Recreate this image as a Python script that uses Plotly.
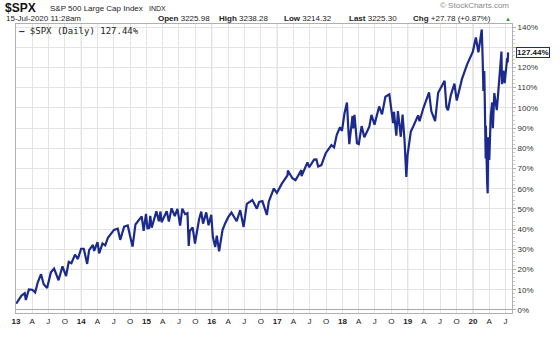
import plotly.graph_objects as go

# ---------------- data ----------------
dates = [
 "2013-01-02","2013-01-18","2013-02-01","2013-02-19","2013-02-25","2013-03-14","2013-04-02","2013-04-18",
 "2013-05-03","2013-05-21","2013-06-05","2013-06-24","2013-07-15","2013-08-02","2013-08-27","2013-09-18",
 "2013-10-08","2013-10-23","2013-11-07","2013-11-27","2013-12-13","2013-12-31",
 "2014-01-15","2014-02-03","2014-02-14","2014-03-07","2014-03-14","2014-04-02","2014-04-11","2014-04-30",
 "2014-05-15","2014-05-30","2014-06-20","2014-07-03","2014-07-24","2014-07-31","2014-08-07","2014-08-29",
 "2014-09-18","2014-10-01","2014-10-15","2014-10-31","2014-11-28","2014-12-05","2014-12-16","2014-12-29",
 "2015-01-06","2015-01-15","2015-01-22","2015-01-30","2015-02-25","2015-03-11","2015-03-20","2015-03-26",
 "2015-04-24","2015-05-06","2015-05-21","2015-06-08","2015-06-23","2015-07-08","2015-07-20","2015-08-05",
 "2015-08-18","2015-08-25","2015-08-31","2015-09-16","2015-09-29","2015-10-22","2015-11-03","2015-11-13",
 "2015-12-01","2015-12-14","2015-12-29",
 "2016-01-07","2016-01-20","2016-01-29","2016-02-11","2016-03-01","2016-03-15","2016-04-01","2016-04-20",
 "2016-05-19","2016-06-08","2016-06-27","2016-07-15","2016-08-15","2016-09-09","2016-09-22","2016-10-10",
 "2016-11-04","2016-11-15","2016-12-13","2016-12-30",
 "2017-01-26","2017-02-28","2017-03-01","2017-03-27","2017-04-13","2017-05-16","2017-05-17","2017-06-19",
 "2017-06-29","2017-07-26","2017-08-08","2017-08-18","2017-09-05","2017-09-29","2017-10-31","2017-11-15",
 "2017-11-30","2017-12-18","2017-12-29",
 "2018-01-12","2018-01-26","2018-02-02","2018-02-08","2018-02-26","2018-03-02","2018-03-09","2018-03-23",
 "2018-04-02","2018-04-18","2018-05-03","2018-05-31","2018-06-12","2018-06-29","2018-07-25","2018-08-10",
 "2018-08-29","2018-09-20","2018-10-11","2018-10-16","2018-10-29","2018-11-07","2018-11-23","2018-12-03",
 "2018-12-14","2018-12-24","2018-12-31",
 "2019-01-18","2019-01-31","2019-02-28","2019-03-08","2019-03-29","2019-04-30","2019-05-13","2019-06-03",
 "2019-06-20","2019-07-26","2019-08-05","2019-08-14","2019-08-30","2019-09-19","2019-10-02","2019-10-31",
 "2019-11-29","2019-12-31",
 "2020-01-17","2020-01-31","2020-02-19","2020-02-24","2020-02-28","2020-03-04","2020-03-09","2020-03-10",
 "2020-03-11","2020-03-12","2020-03-13","2020-03-16","2020-03-18","2020-03-20","2020-03-23","2020-03-26",
 "2020-04-01","2020-04-09","2020-04-17","2020-04-21","2020-04-29","2020-05-13","2020-05-19","2020-05-29",
 "2020-06-08","2020-06-11","2020-06-19","2020-06-26","2020-07-06","2020-07-10","2020-07-13","2020-07-14",
 "2020-07-15",
]
pct = [
 3.1, 5.1, 7.1, 8.3, 4.9, 10.2, 10.0, 8.7,
 13.7, 17.7, 12.7, 10.9, 18.6, 20.5, 14.7, 21.6,
 16.8, 23.8, 23.1, 27.4, 25.2, 30.3,
 30.3, 22.8, 29.6, 32.2, 29.2, 33.6, 28.0, 32.9,
 32.0, 35.7, 38.3, 39.6, 40.2, 36.4, 34.7, 41.2,
 41.8, 36.6, 31.3, 42.3, 45.8, 46.3, 39.1, 47.5,
 40.4, 40.5, 46.6, 40.7, 48.8, 43.9, 48.7, 43.4,
 48.8, 43.7, 50.3, 46.5, 50.0, 41.7, 50.1, 47.4,
 47.9, 31.7, 39.1, 40.8, 32.9, 44.9, 48.7, 42.7,
 48.3, 41.9, 47.1,
 36.2, 31.1, 36.8, 29.0, 39.5, 42.7, 45.8, 48.2,
 43.9, 49.4, 41.1, 52.5, 54.4, 50.1, 53.5, 53.9,
 47.0, 53.7, 60.1, 57.9,
 62.4, 66.7, 69.0, 65.2, 64.2, 69.2, 66.2, 73.0,
 70.6, 74.4, 74.5, 71.0, 71.7, 77.6, 81.6, 80.5,
 86.7, 90.4, 88.6,
 97.2, 102.6, 90.6, 82.0, 96.0, 89.9, 96.5, 82.5,
 82.1, 91.0, 85.5, 90.7, 96.5, 91.7, 100.7, 96.8,
 105.5, 106.7, 92.4, 98.0, 86.2, 98.4, 85.7, 96.7,
 83.9, 65.8, 76.8,
 88.3, 90.7, 96.3, 93.4, 99.8, 107.7, 98.3, 93.5,
 107.5, 113.4, 100.5, 98.8, 106.3, 112.0, 103.6, 114.2,
 121.5, 127.8,
 134.8, 127.5, 138.8, 124.0, 108.3, 118.2, 93.7, 103.2,
 93.3, 75.0, 91.2, 68.3, 70.5, 62.8, 57.7, 85.5,
 74.2, 96.0, 102.7, 89.9, 107.3, 98.9, 105.3, 114.7,
 127.9, 111.7, 118.4, 112.2, 124.2, 124.6, 122.5, 125.4,
 127.44,
]
last_label = "127.44%"

tick_dates = []
tick_text = []
for yr in range(2013, 2021):
    for m, lab in [(1, None), (4, "A"), (7, "J"), (10, "O")]:
        d = f"{yr}-{m:02d}-01"
        if d > "2020-07-31":
            continue
        tick_dates.append(d)
        tick_text.append(f"<b>{str(yr)[2:]}</b>" if lab is None else lab)
year_dates = [f"{yr}-01-01" for yr in range(2014, 2021)]

y_ticks = list(range(0, 150, 10))
# the 130% label sits behind the last-value box in the reference
y_text = ["" if v == 130 else f"{v}%" for v in y_ticks]

# ---------------- layout geometry (pixels) ----------------
W, H = 560, 338
L, R, T, B = 14, 512, 24, 316
def px(xp):
    return (xp - L) / (R - L)
def py(yp):
    return (B - yp) / (B - T)

LINE = "#1b2a8c"
GRID = "#e3e3e3"

fig = go.Figure()
fig.add_trace(go.Scatter(x=dates, y=pct, mode="lines",
                         line=dict(color=LINE, width=2.2), showlegend=False,
                         hoverinfo="skip"))

fig.update_layout(
    width=W, height=H,
    margin=dict(l=L, r=W - R, t=T, b=H - B),
    paper_bgcolor="white", plot_bgcolor="white",
    font=dict(family="Liberation Sans, Arial", size=8, color="#333"),
    xaxis=dict(range=["2013-01-01", "2020-08-06"], tickvals=tick_dates,
               ticktext=tick_text, showgrid=True, gridcolor=GRID, gridwidth=1,
               showline=True, linecolor="#b0b0b0", mirror=True, ticks="",
               tickfont=dict(size=8, color="#222"), zeroline=False),
    yaxis=dict(side="right", range=[-1.5, 141.5], tickvals=y_ticks,
               ticktext=y_text, showgrid=True,
               gridcolor=GRID, showline=True, linecolor="#b0b0b0",
               mirror=True, ticks="outside", ticklen=3, tickcolor="#b0b0b0",
               minor=dict(ticks="outside", ticklen=2, tickcolor="#c8c8c8", dtick=2),
               tickfont=dict(size=8, color="#333"), zeroline=True,
               zerolinecolor="#a8a8a8", zerolinewidth=1),
)

for d in year_dates:
    fig.add_shape(type="line", x0=d, x1=d, y0=0, y1=1, yref="paper",
                  line=dict(color="#d0d0d0", width=1), layer="below")

ann = []
def A(text, xp, yp, size, anchor="left", color="#222", family="Liberation Sans, Arial", **kw):
    ann.append(dict(text=text, x=px(xp), y=py(yp), xref="paper", yref="paper",
                    xanchor=anchor, yanchor="middle", showarrow=False,
                    font=dict(size=size, color=color, family=family), **kw))

A("<b>$SPX</b>", 1, 7.5, 12, color="#111")
A("S&amp;P 500 Large Cap Index", 46, 8, 8, color="#222")
A("INDX", 146, 8, 7, color="#222")
A("15-Jul-2020 11:28am", 2, 18.5, 8, color="#222")
A("<b>Open</b> 3225.98", 155, 18.5, 8)
A("<b>High</b> 3238.28", 216, 18.5, 8)
A("<b>Low</b> 3214.32", 281, 18.5, 8)
A("<b>Last</b> 3225.30", 346, 18.5, 8)
A("<b>Chg</b> +27.78 (+0.87%)", 411, 18.5, 8)
A("▲", 508, 18.5, 6, anchor="center", color="#2e9a3a")
A("© StockCharts.com", 511, 5.5, 8, anchor="right", color="#888")
A("<span style='color:#1b2a8c'><b>—</b></span> $SPX (Daily) 127.44%", 15, 31, 9,
  color="#222", family="DejaVu Sans Mono, monospace")

ann.append(dict(text=f"<b>{last_label}</b>", x=1, xref="paper", y=pct[-1], yref="y",
                xanchor="left", yanchor="middle", showarrow=False, xshift=4,
                bgcolor="white", bordercolor=LINE, borderwidth=1, borderpad=0,
                font=dict(size=8, color="#111", family="Liberation Sans, Arial")))
fig.update_layout(annotations=ann)

fig.write_html("out.html")
